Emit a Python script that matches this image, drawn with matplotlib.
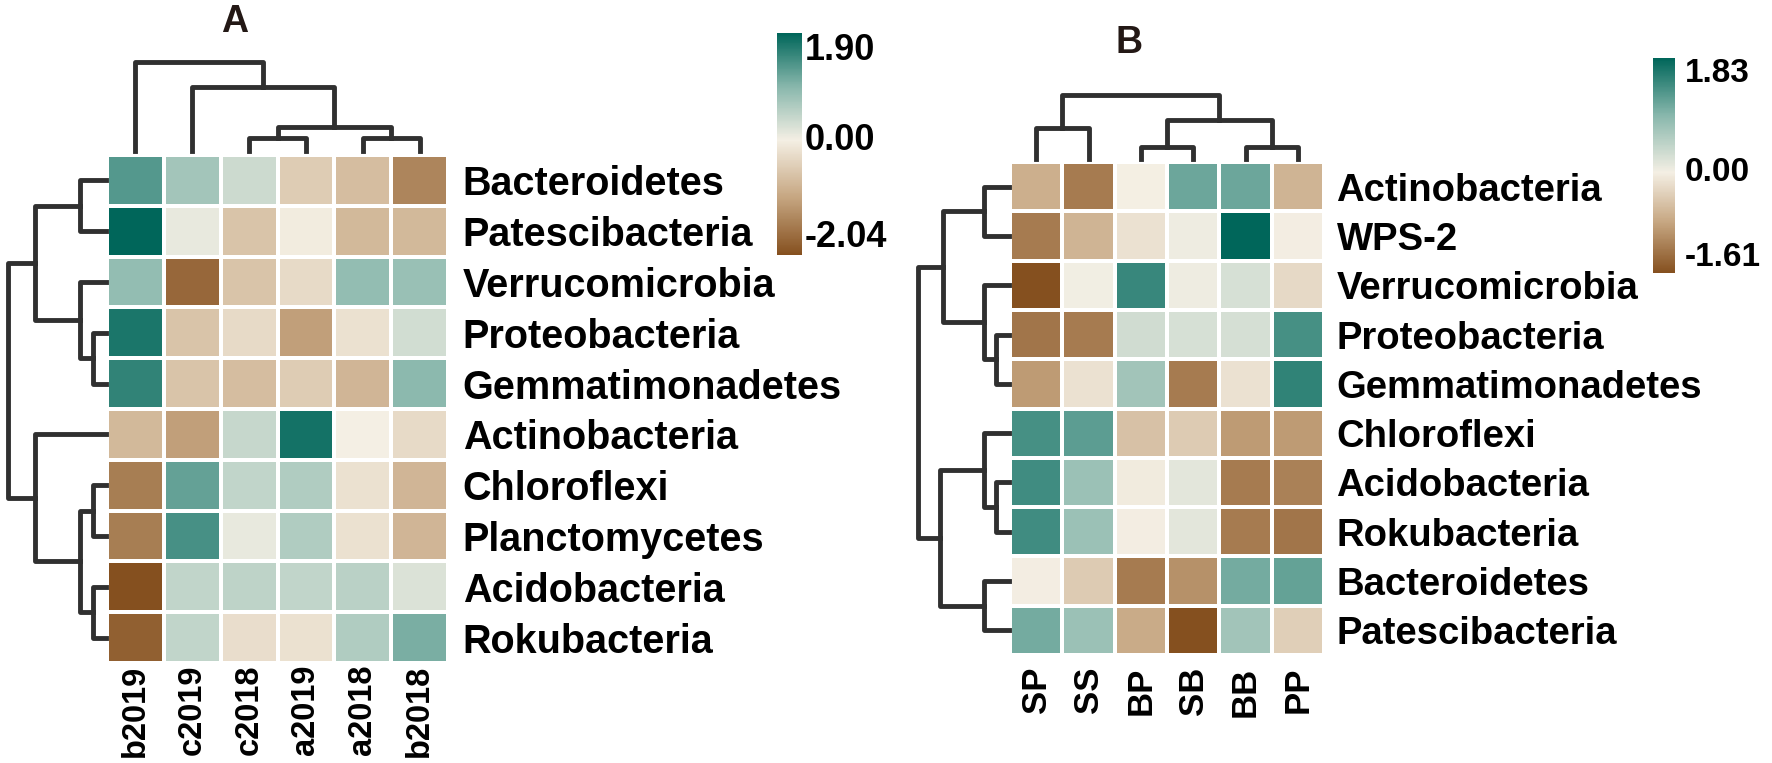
import numpy as np
import matplotlib.pyplot as plt
from matplotlib.colors import LinearSegmentedColormap, Normalize
from matplotlib.transforms import blended_transform_factory

plt.rcParams['font.family'] = ['Liberation Sans', 'DejaVu Sans']
plt.rcParams['font.weight'] = 'bold'

W, H = 1772, 763

# ---- panel A data ----
a_cols = ['b2019', 'c2019', 'c2018', 'a2019', 'a2018', 'b2018']
a_rows = ['Bacteroidetes', 'Patescibacteria', 'Verrucomicrobia', 'Proteobacteria',
          'Gemmatimonadetes', 'Actinobacteria', 'Chloroflexi', 'Planctomycetes',
          'Acidobacteria', 'Rokubacteria']
a_vals = [
    [1.30, 0.70, 0.35, -0.50, -0.70, -1.40],
    [1.90, 0.10, -0.60, -0.05, -0.75, -0.75],
    [0.85, -1.75, -0.60, -0.30, 0.85, 0.80],
    [1.70, -0.60, -0.30, -1.10, -0.20, 0.30],
    [1.55, -0.60, -0.70, -0.50, -0.80, 0.90],
    [-0.75, -1.10, 0.40, 1.75, 0.00, -0.30],
    [-1.50, 1.20, 0.45, 0.60, -0.20, -0.80],
    [-1.50, 1.40, 0.10, 0.60, -0.20, -0.80],
    [-2.04, 0.45, 0.47, 0.45, 0.50, 0.22],
    [-1.85, 0.45, -0.25, -0.20, 0.60, 1.05],
]
a_range = (-2.04, 1.90)
# merges: (left, right, height); ids >= n are earlier merges
a_col_link = [(2, 3, 13), (4, 5, 13), (6, 7, 24), (1, 8, 64), (0, 9, 89)]
a_row_link = [(0, 1, 26), (3, 4, 13), (2, 11, 26), (10, 12, 71), (6, 7, 13),
              (8, 9, 13), (14, 15, 26), (5, 16, 71), (13, 17, 98)]

# ---- panel B data ----
b_cols = ['SP', 'SS', 'BP', 'SB', 'BB', 'PP']
b_rows = ['Actinobacteria', 'WPS-2', 'Verrucomicrobia', 'Proteobacteria',
          'Gemmatimonadetes', 'Chloroflexi', 'Acidobacteria', 'Rokubacteria',
          'Bacteroidetes', 'Patescibacteria']
b_vals = [
    [-0.70, -1.20, 0.00, 1.10, 1.10, -0.65],
    [-1.20, -0.65, -0.15, 0.05, 1.83, -0.02],
    [-1.61, 0.02, 1.45, 0.05, 0.25, -0.25],
    [-1.25, -1.20, 0.30, 0.25, 0.27, 1.35],
    [-0.90, -0.15, 0.70, -1.20, -0.15, 1.50],
    [1.35, 1.20, -0.50, -0.40, -0.90, -0.90],
    [1.40, 0.75, -0.05, 0.15, -1.20, -1.15],
    [1.40, 0.75, -0.02, 0.15, -1.20, -1.25],
    [-0.02, -0.40, -1.20, -1.00, 1.05, 1.15],
    [1.05, 0.75, -0.75, -1.60, 0.70, -0.35],
]
b_range = (-1.61, 1.83)
b_col_link = [(2, 3, 12), (4, 5, 12), (0, 1, 31), (6, 7, 39), (8, 9, 64)]
b_row_link = [(0, 1, 24.5), (3, 4, 13), (2, 11, 24.5), (10, 12, 66), (6, 7, 13),
              (5, 14, 24.5), (8, 9, 24.5), (15, 16, 68.5), (13, 17, 91)]

LINE = '#303030'


def box(x0, y0, x1, y1):
    return [x0 / W, 1 - y1 / H, (x1 - x0) / W, (y1 - y0) / H]


def make_cmap(vmin, vmax):
    c = -vmin / (vmax - vmin)
    nodes = [0, c / 2, c, c + (1 - c) / 2, 1]
    colors = ['#85501F', '#C6A681', '#F4EFE4', '#88B7AC', '#00665A']
    return LinearSegmentedColormap.from_list('brteal', list(zip(nodes, colors)))


def dendro(ax, link, n, side):
    pos = {i: i + 0.5 for i in range(n)}
    hgt = {i: 0.0 for i in range(n)}
    for k, (l, r, h) in enumerate(link):
        xs = [pos[l], pos[l], pos[r], pos[r]]
        ys = [hgt[l], h, h, hgt[r]]
        if side == 'top':
            ax.plot(xs, ys, color=LINE, lw=3.5, clip_on=False)
        else:
            ax.plot(ys, xs, color=LINE, lw=3.5, clip_on=False)
        pos[n + k] = (pos[l] + pos[r]) / 2
        hgt[n + k] = h
    top = max(h for _, _, h in link)
    if side == 'top':
        ax.set_xlim(0, n)
        ax.set_ylim(0, top)
    else:
        ax.set_xlim(top, 0)
        ax.set_ylim(n, 0)
    ax.axis('off')


def panel(fig, rows, cols, vals, vrange, col_link, row_link, bx, title,
          row_fs, col_fs, row_pad, col_pad, cb_fs, cb_off):
    vals = np.array(vals)
    vmin, vmax = vrange
    cmap = make_cmap(vmin, vmax)
    norm = Normalize(vmin, vmax)

    ax = fig.add_axes(box(*bx['heat']))
    mesh = ax.pcolormesh(vals, cmap=cmap, norm=norm, edgecolors='white', linewidth=1.5)
    ax.set_xlim(0, len(cols))
    ax.set_ylim(len(rows), 0)
    ax.set_xticks(np.arange(len(cols)) + 0.5)
    ax.set_xticklabels(cols, rotation=90, fontsize=col_fs, fontweight='bold')
    ax.set_yticks(np.arange(len(rows)) + 0.5)
    ax.set_yticklabels(rows, fontsize=row_fs, fontweight='bold')
    ax.yaxis.tick_right()
    ax.tick_params(axis='x', length=0, pad=col_pad)
    ax.tick_params(axis='y', length=0, pad=row_pad)
    for s in ax.spines.values():
        s.set_visible(False)

    dendro(fig.add_axes(box(*bx['cden'])), col_link, len(cols), 'top')
    dendro(fig.add_axes(box(*bx['rden'])), row_link, len(rows), 'left')

    cax = fig.add_axes(box(*bx['cbar']))
    cb = fig.colorbar(mesh, cax=cax)
    cb.outline.set_visible(False)
    cb.set_ticks([])
    tr = blended_transform_factory(cax.transAxes, cax.transData)
    for v, va in [(vmax, 'top'), (0.0, 'center'), (vmin, 'bottom')]:
        cax.text(cb_off, v, f'{v:.2f}', transform=tr, ha='left', va=va,
                 fontsize=cb_fs, fontweight='bold')

    tx, ty = bx['title']
    fig.text(tx / W, 1 - ty / H, title, ha='center', va='center',
             fontsize=27, fontweight='bold', color='#231815')


fig = plt.figure(figsize=(W / 100, H / 100), dpi=100)

panel(fig, a_rows, a_cols, a_vals, a_range, a_col_link, a_row_link,
      {'heat': (107, 155, 448, 663), 'cden': (107, 62, 448, 151),
       'rden': (8, 155, 106, 663), 'cbar': (777, 33, 802, 255), 'title': (235, 22)},
      'A', row_fs=28.5, col_fs=23.5, row_pad=10.5, col_pad=1.0, cb_fs=26, cb_off=1.12)

panel(fig, b_rows, b_cols, b_vals, b_range, b_col_link, b_row_link,
      {'heat': (1010, 162, 1324, 655), 'cden': (1010, 95, 1324, 159),
       'rden': (918, 162, 1009, 655), 'cbar': (1653, 58, 1675, 273), 'title': (1129, 43)},
      'B', row_fs=27.5, col_fs=25, row_pad=9.0, col_pad=8.5, cb_fs=24, cb_off=1.45)

fig.savefig('out.png', dpi=100)
